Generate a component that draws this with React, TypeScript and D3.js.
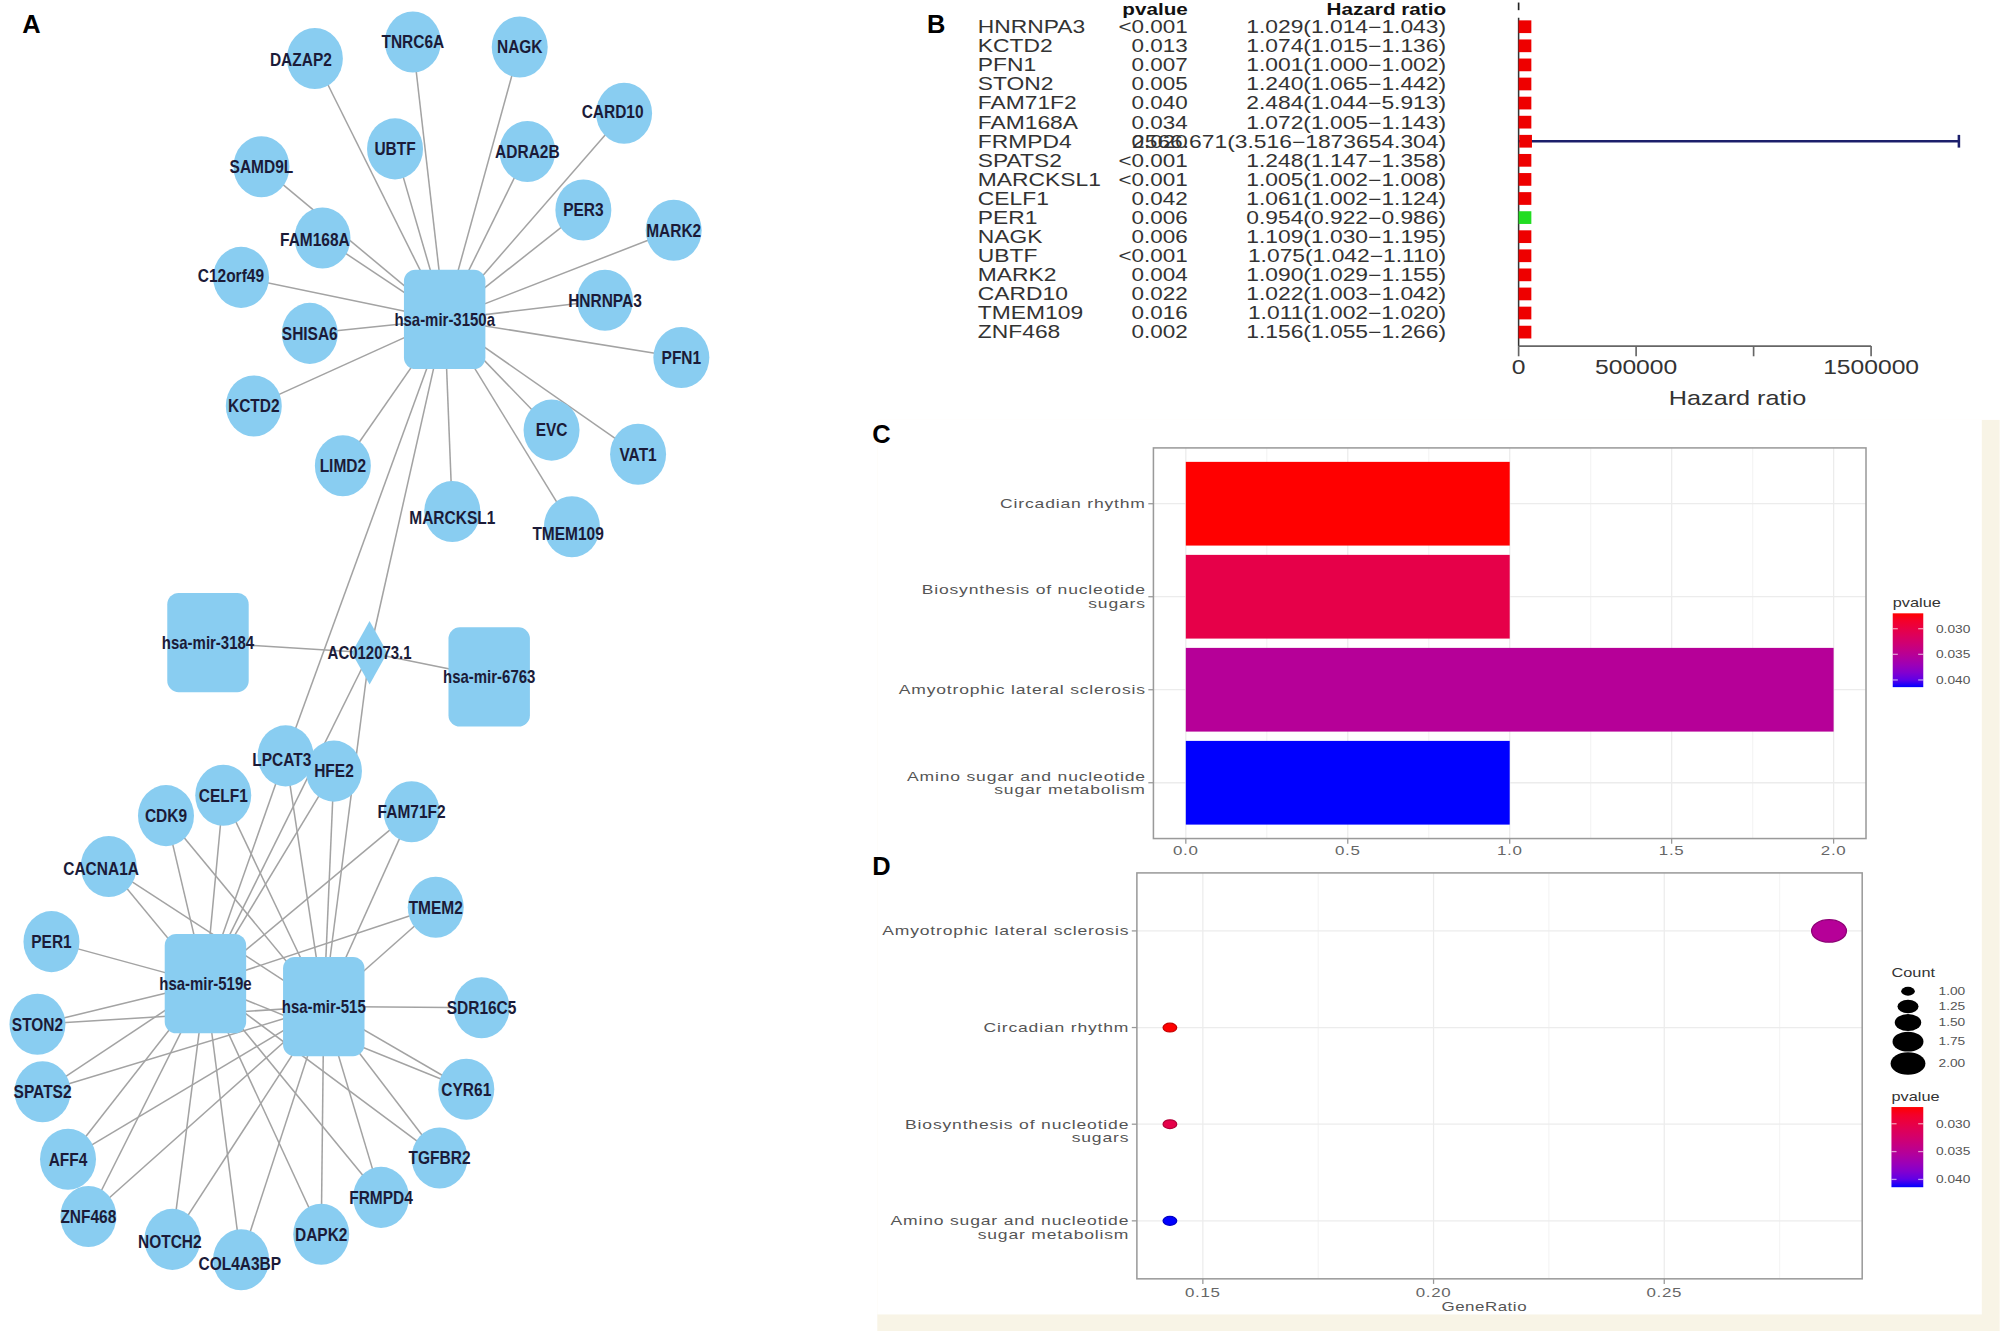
import React from 'react';
import * as d3 from 'd3';

// ---------------- A: ceRNA network (layout) ----------------
const mirnaIds = ['hsa-mir-3150a', 'hsa-mir-3184', 'hsa-mir-6763', 'hsa-mir-519e', 'hsa-mir-515'];
const mirnaX = [346, 160, 381, 158, 251];
const mirnaY = [251, 505, 532, 773, 791];

const lncIds = ['AC012073.1'];
const lncX = [287];
const lncY = [513];

const geneIds = [
  'TNRC6A', 'NAGK', 'DAZAP2', 'CARD10', 'UBTF', 'ADRA2B', 'SAMD9L', 'PER3', 'MARK2', 'FAM168A',
  'C12orf49', 'HNRNPA3', 'SHISA6', 'PFN1', 'KCTD2', 'EVC', 'VAT1', 'LIMD2', 'MARCKSL1', 'TMEM109',
  'LPCAT3', 'HFE2', 'CELF1', 'CDK9', 'FAM71F2', 'CACNA1A', 'TMEM2', 'PER1', 'SDR16C5', 'STON2',
  'CYR61', 'SPATS2', 'TGFBR2', 'AFF4', 'FRMPD4', 'ZNF468', 'DAPK2', 'NOTCH2', 'COL4A3BP',
];
const geneX = [
  321, 405, 244, 487, 307, 411, 202, 455, 526, 250,
  186, 472, 240, 532, 196, 430, 498, 266, 352, 446,
  221, 259, 172, 127, 320, 82, 339, 37, 375, 26,
  363, 30, 342, 50, 296, 66, 249, 132, 186,
];
const geneY = [
  33, 37, 46, 89, 117, 119, 131, 165, 181, 187,
  218, 236, 262, 281, 319, 338, 357, 366, 402, 414,
  594, 606, 625, 641, 638, 681, 713, 740, 792, 805,
  856, 858, 910, 911, 941, 956, 970, 974, 990,
];

const mir3150aTargets = [
  'TNRC6A', 'NAGK', 'DAZAP2', 'CARD10', 'UBTF', 'ADRA2B', 'SAMD9L', 'PER3', 'MARK2', 'FAM168A',
  'C12orf49', 'HNRNPA3', 'SHISA6', 'PFN1', 'KCTD2', 'EVC', 'VAT1', 'LIMD2', 'MARCKSL1', 'TMEM109',
  'LPCAT3', 'AC012073.1',
];
const mir519eTargets = [
  'LPCAT3', 'HFE2', 'CELF1', 'CDK9', 'FAM71F2', 'CACNA1A', 'TMEM2', 'PER1', 'STON2', 'CYR61',
  'SPATS2', 'TGFBR2', 'AFF4', 'FRMPD4', 'ZNF468', 'DAPK2', 'NOTCH2', 'COL4A3BP', 'AC012073.1',
];
const mir515Targets = [
  'LPCAT3', 'HFE2', 'CELF1', 'CDK9', 'FAM71F2', 'CACNA1A', 'TMEM2', 'SDR16C5', 'STON2', 'CYR61',
  'SPATS2', 'TGFBR2', 'AFF4', 'FRMPD4', 'ZNF468', 'DAPK2', 'NOTCH2', 'COL4A3BP', 'AC012073.1',
];
const lncPartners = ['hsa-mir-3184', 'hsa-mir-6763'];

// ---------------- B: univariate Cox forest ----------------
const coxGenes = [
  'HNRNPA3', 'KCTD2', 'PFN1', 'STON2', 'FAM71F2', 'FAM168A', 'FRMPD4', 'SPATS2', 'MARCKSL1',
  'CELF1', 'PER1', 'NAGK', 'UBTF', 'MARK2', 'CARD10', 'TMEM109', 'ZNF468',
];
const coxP = [
  '<0.001', '0.013', '0.007', '0.005', '0.040', '0.034', '0.020', '<0.001', '<0.001',
  '0.042', '0.006', '0.006', '<0.001', '0.004', '0.022', '0.016', '0.002',
];
const coxHR = [1.029, 1.074, 1.001, 1.24, 2.484, 1.072, 2566.671, 1.248, 1.005, 1.061, 0.954, 1.109, 1.075, 1.09, 1.022, 1.011, 1.156];
const coxLow = [1.014, 1.015, 1.0, 1.065, 1.044, 1.005, 3.516, 1.147, 1.002, 1.002, 0.922, 1.03, 1.042, 1.029, 1.003, 1.002, 1.055];
const coxHigh = [1.043, 1.136, 1.002, 1.442, 5.913, 1.143, 1873654.304, 1.358, 1.008, 1.124, 0.986, 1.195, 1.11, 1.155, 1.042, 1.02, 1.266];
const hrTicks = [0, 500000, 1000000, 1500000];
const hrTickLabels = ['0', '500000', '', '1500000'];

// ---------------- C / D: KEGG enrichment ----------------
const pathways = [
  'Circadian rhythm',
  'Biosynthesis of nucleotide sugars',
  'Amyotrophic lateral sclerosis',
  'Amino sugar and nucleotide sugar metabolism',
];
const pathCount = [1, 1, 2, 1];
const pathP = [0.027, 0.0302, 0.0352, 0.0414];
const pathRatio = [1 / 7, 1 / 7, 2 / 7, 1 / 7];
const barOrder = ['Circadian rhythm', 'Biosynthesis of nucleotide sugars', 'Amyotrophic lateral sclerosis', 'Amino sugar and nucleotide sugar metabolism'];
const dotOrder = ['Amyotrophic lateral sclerosis', 'Circadian rhythm', 'Biosynthesis of nucleotide sugars', 'Amino sugar and nucleotide sugar metabolism'];
const countTicks = [0, 0.5, 1, 1.5, 2];
const ratioTicks = [0.15, 0.2, 0.25];
const pTicks = [0.03, 0.035, 0.04];
const countLegend = [1, 1.25, 1.5, 1.75, 2];

const FONT = 'Liberation Sans, Arial, Helvetica, sans-serif';

// str_wrap-like greedy wrap
function wrap(s: string, width = 30): string[] {
  const out: string[] = [];
  let cur = '';
  s.split(' ').forEach(w => {
    if (cur && (cur + ' ' + w).length > width) { out.push(cur); cur = w; }
    else cur = cur ? cur + ' ' + w : w;
  });
  if (cur) out.push(cur);
  return out;
}

const SText = ({ x, y, sx = 1.3, anchor = 'start', size = 10, fill = '#4d4d4d', weight = 'normal', spacing = 0, children }: any) => (
  <g transform={`translate(${x},${y}) scale(${sx},1)`}>
    <text textAnchor={anchor} fontSize={size} fill={fill} fontWeight={weight} fontFamily={FONT} letterSpacing={spacing}>{children}</text>
  </g>
);

const pColor = d3.scaleLinear<string>()
  .domain([d3.min(pathP)!, d3.max(pathP)!])
  .range(['#ff0000', '#0000ff'])
  .interpolate(d3.interpolateLab);

const Network = () => {
  const pos = new Map<string, { x: number; y: number; kind: string }>();
  mirnaIds.forEach((id, i) => pos.set(id, { x: mirnaX[i], y: mirnaY[i], kind: 'mirna' }));
  lncIds.forEach((id, i) => pos.set(id, { x: lncX[i], y: lncY[i], kind: 'lnc' }));
  geneIds.forEach((id, i) => pos.set(id, { x: geneX[i], y: geneY[i], kind: 'gene' }));

  const edges: [string, string][] = [
    ...mir3150aTargets.map(t => ['hsa-mir-3150a', t] as [string, string]),
    ...mir519eTargets.map(t => ['hsa-mir-519e', t] as [string, string]),
    ...mir515Targets.map(t => ['hsa-mir-515', t] as [string, string]),
    ...lncPartners.map(t => ['AC012073.1', t] as [string, string]),
  ];
  // identity layout scales
  const sx = d3.scaleLinear().domain([0, 1]).range([0, 1]);
  const sy = d3.scaleLinear().domain([0, 1]).range([0, 1]);
  const labelShift: Record<string, [number, number]> = {
    DAZAP2: [-11, 1], CARD10: [-9, -1], FAM168A: [-6, 1], 'C12orf49': [-8, -1], MARCKSL1: [0, 5],
    TMEM109: [-3, 5], CACNA1A: [-6, 2], NOTCH2: [-2, 2], COL4A3BP: [-1, 3], LPCAT3: [-3, 3],
  };
  const fill = '#89cdf1';
  const nodes = [...pos.entries()];
  return (
    <g>
      {edges.map(([a, b], i) => {
        const p = pos.get(a)!, q = pos.get(b)!;
        return <line key={i} x1={sx(p.x)} y1={sy(p.y)} x2={sx(q.x)} y2={sy(q.y)} stroke="#a3a3a3" strokeWidth={1.2} />;
      })}
      {nodes.map(([id, p]) => {
        const x = sx(p.x), y = sy(p.y);
        if (p.kind === 'mirna') return <rect key={id} x={x - 32} y={y - 39} width={64} height={78} rx={9} fill={fill} />;
        if (p.kind === 'lnc') return <path key={id} d={`M${x},${y - 25}L${x + 14},${y}L${x},${y + 25}L${x - 14},${y}Z`} fill={fill} />;
        return <ellipse key={id} cx={x} cy={y} rx={22} ry={24} fill={fill} />;
      })}
      {nodes.map(([id, p]) => {
        const sh = labelShift[id] || [0, 0];
        return (
          <SText key={id} x={sx(p.x) + sh[0]} y={sy(p.y) + sh[1] + 5} anchor="middle" size={p.kind === 'gene' ? 14.5 : 14}
            sx={0.84} weight="bold" fill="#1b1b38">{id}</SText>
        );
      })}
    </g>
  );
};

const Forest = () => {
  const row = d3.scaleBand().domain(coxGenes).range([13.5, 268.5]);
  const xF = d3.scaleLinear().domain([0, 1500000]).range([1190, 1467]);
  const fmt = d3.format('.3f');
  const axisY = 272;
  return (
    <g>
      <SText x={930} y={12} anchor="end" size={13} sx={1.25} fill="#111" weight="bold">pvalue</SText>
      <SText x={1133} y={12} anchor="end" size={13} sx={1.25} fill="#111" weight="bold">Hazard ratio</SText>
      {coxGenes.map((g, i) => {
        const cy = row(g)! + row.bandwidth() / 2;
        return (
          <g key={g}>
            <SText x={765} y={cy + 5} size={13.8} sx={1.3} fill="#333">{g}</SText>
            <SText x={930} y={cy + 5} anchor="end" size={13.8} sx={1.28} fill="#333">{coxP[i]}</SText>
            <SText x={1133} y={cy + 5} anchor="end" size={13.8} sx={1.3} fill="#333">
              {`${fmt(coxHR[i])}(${fmt(coxLow[i])}\u2212${fmt(coxHigh[i])})`}
            </SText>
          </g>
        );
      })}
      <line x1={xF(1)} x2={xF(1)} y1={2} y2={8} stroke="#222" strokeWidth={1.3} />
      <line x1={xF(1)} x2={xF(1)} y1={14} y2={axisY} stroke="#333" strokeWidth={1.2} />
      {coxGenes.map((g, i) => {
        const cy = row(g)! + row.bandwidth() / 2;
        const wide = xF(coxHigh[i]) - xF(coxLow[i]) > 5;
        return (
          <g key={g}>
            {wide && (
              <g stroke="#1c1f6b" strokeWidth={2}>
                <line x1={xF(coxLow[i])} x2={xF(coxHigh[i])} y1={cy} y2={cy} />
                <line x1={xF(coxHigh[i])} x2={xF(coxHigh[i])} y1={cy - 5} y2={cy + 5} />
              </g>
            )}
            <rect x={xF(coxHR[i])} y={cy - 5} width={10} height={10} fill={coxHR[i] < 1 ? '#22dd22' : '#ee0000'} />
          </g>
        );
      })}
      <line x1={xF(0)} x2={xF(1500000)} y1={axisY} y2={axisY} stroke="#666" strokeWidth={1.3} />
      {hrTicks.map((t, i) => (
        <g key={t}>
          <line x1={xF(t)} x2={xF(t)} y1={axisY} y2={axisY + 8} stroke="#666" strokeWidth={1.3} />
          {hrTickLabels[i] && <SText x={xF(t)} y={axisY + 22} anchor="middle" size={15.5} sx={1.25} fill="#333">{hrTickLabels[i]}</SText>}
        </g>
      ))}
      <SText x={1362} y={318} anchor="middle" size={15.5} sx={1.28} fill="#333">Hazard ratio</SText>
    </g>
  );
};

const ColorBar = ({ x, y, w, h, id }: any) => {
  const [p0, p1] = pColor.domain();
  const yb = d3.scaleLinear().domain([p0, p1]).range([y, y + h]);
  const stops = d3.range(0, 1.0001, 0.1);
  return (
    <g>
      <defs>
        <linearGradient id={id} x1="0" y1="0" x2="0" y2="1">
          {stops.map(t => <stop key={t} offset={t} stopColor={pColor(p0 + t * (p1 - p0))} />)}
        </linearGradient>
      </defs>
      <SText x={x} y={y - 5} size={9.5} sx={1.35} fill="#333">pvalue</SText>
      <rect x={x} y={y} width={w} height={h} fill={`url(#${id})`} />
      {pTicks.map(t => (
        <g key={t}>
          <line x1={x} x2={x + 4} y1={yb(t)} y2={yb(t)} stroke="#fff" strokeOpacity={0.6} />
          <line x1={x + w - 4} x2={x + w} y1={yb(t)} y2={yb(t)} stroke="#fff" strokeOpacity={0.6} />
          <SText x={x + w + 10} y={yb(t) + 3} size={8} sx={1.35} fill="#555">{d3.format('.3f')(t)}</SText>
        </g>
      ))}
    </g>
  );
};

const YLabels = ({ order, yc, left, centered }: any) => (
  <g>
    {order.map((n: string) => {
      const lines = wrap(n);
      const c = yc(n);
      return (
        <g key={n}>
          <line x1={left - 4} x2={left} y1={c} y2={c} stroke="#999" />
          {lines.map((l, k) => (
            <SText key={k} x={left - 6} y={c + 3.5 + (centered ? k - (lines.length - 1) / 2 : k) * 10.5}
              anchor="end" size={9.5} sx={1.45} spacing={0.45} fill="#555">{l}</SText>
          ))}
        </g>
      );
    })}
  </g>
);

const BarPanel = () => {
  const left = 903, right = 1463, top = 352, bottom = 659;
  const x = d3.scaleLinear().domain([-0.1, 2.1]).range([left, right]);
  const y = d3.scaleLinear().domain([0.4, 4.6]).range([top, bottom]);
  const yc = (name: string) => y(barOrder.indexOf(name) + 1);
  return (
    <g>
      <rect x={left} y={top} width={right - left} height={bottom - top} fill="#fff" />
      {d3.range(0.25, 2.01, 0.5).map(t => <line key={'m' + t} x1={x(t)} x2={x(t)} y1={top} y2={bottom} stroke="#f5f5f5" />)}
      {countTicks.map(t => <line key={t} x1={x(t)} x2={x(t)} y1={top} y2={bottom} stroke="#ececec" />)}
      {barOrder.map(n => <line key={n} x1={left} x2={right} y1={yc(n)} y2={yc(n)} stroke="#ececec" />)}
      {pathways.map((n, i) => (
        <rect key={n} x={x(0)} y={yc(n) - 0.45 * (y(1) - y(0))} width={x(pathCount[i]) - x(0)}
          height={0.9 * (y(1) - y(0))} fill={pColor(pathP[i])} />
      ))}
      <rect x={left} y={top} width={right - left} height={bottom - top} fill="none" stroke="#9a9a9a" strokeWidth={1.2} />
      <YLabels order={barOrder} yc={yc} left={left} centered />
      {countTicks.map(t => (
        <g key={t}>
          <line x1={x(t)} x2={x(t)} y1={bottom} y2={bottom + 4} stroke="#999" />
          <SText x={x(t)} y={bottom + 13} anchor="middle" size={9.5} sx={1.4} spacing={0.4} fill="#666">{d3.format('.1f')(t)}</SText>
        </g>
      ))}
      <ColorBar x={1484} y={482} w={24} h={58} id="gradC" />
    </g>
  );
};

const DotPanel = () => {
  const left = 890, right = 1460, top = 686, bottom = 1005;
  const x = d3.scaleLinear().domain([0.1357, 0.2929]).range([left, right]);
  const y = d3.scaleLinear().domain([0.4, 4.6]).range([top, bottom]);
  const yc = (name: string) => y(dotOrder.indexOf(name) + 1);
  const area = d3.scaleLinear().domain([1, 2]).range([12, 78]);
  const ry = (c: number) => Math.sqrt(area(c));
  const stretch = 1.55;
  // legend key positions stacked by size
  const keyY: number[] = [];
  countLegend.forEach((c, i) => {
    keyY.push(i === 0 ? 779 : keyY[i - 1] + Math.max(12, ry(countLegend[i - 1]) + ry(c) + 0.5));
  });
  return (
    <g>
      <rect x={left} y={top} width={right - left} height={bottom - top} fill="#fff" />
      {[0.175, 0.225, 0.275].map(t => <line key={'m' + t} x1={x(t)} x2={x(t)} y1={top} y2={bottom} stroke="#f5f5f5" />)}
      {ratioTicks.map(t => <line key={t} x1={x(t)} x2={x(t)} y1={top} y2={bottom} stroke="#ececec" />)}
      {dotOrder.map(n => <line key={n} x1={left} x2={right} y1={yc(n)} y2={yc(n)} stroke="#ececec" />)}
      {pathways.map((n, i) => {
        const c = pColor(pathP[i]);
        return (
          <ellipse key={n} cx={x(pathRatio[i])} cy={yc(n)} rx={ry(pathCount[i]) * stretch} ry={ry(pathCount[i])}
            fill={c} stroke={d3.color(c)!.darker(0.7).formatHex()} strokeWidth={1} />
        );
      })}
      <rect x={left} y={top} width={right - left} height={bottom - top} fill="none" stroke="#9a9a9a" strokeWidth={1.2} />
      <YLabels order={dotOrder} yc={yc} left={left} centered={false} />
      {ratioTicks.map(t => (
        <g key={t}>
          <line x1={x(t)} x2={x(t)} y1={bottom} y2={bottom + 4} stroke="#999" />
          <SText x={x(t)} y={bottom + 14} anchor="middle" size={9.5} sx={1.4} spacing={0.4} fill="#666">{d3.format('.2f')(t)}</SText>
        </g>
      ))}
      <SText x={(left + right) / 2 - 12} y={bottom + 25} anchor="middle" size={9.5} sx={1.4} spacing={0.3} fill="#555">GeneRatio</SText>
      <SText x={1483} y={768} size={9.5} sx={1.35} fill="#333">Count</SText>
      {countLegend.map((c, i) => (
        <g key={c}>
          <ellipse cx={1496} cy={keyY[i]} rx={ry(c) * stretch} ry={ry(c)} fill="#000" />
          <SText x={1520} y={keyY[i] + 3} size={8} sx={1.35} fill="#555">{d3.format('.2f')(c)}</SText>
        </g>
      ))}
      <ColorBar x={1483} y={870} w={25} h={63} id="gradD" />
    </g>
  );
};

export default function App() {
  const W = 1568, H = 1046;
  return (
    <svg width={2004} height={1331} viewBox={`0 0 ${W} ${H}`}
      style={{ position: 'absolute', left: 0, top: 0, background: '#fff' }}>
      <rect x={0} y={0} width={W} height={H} fill="#fff" />
      <rect x={686} y={330} width={W - 686} height={H - 330} fill="#f8f4e6" />
      <rect x={686} y={330} width={1554 - 686} height={1033 - 330} fill="#fff" />
      <Network />
      <Forest />
      <BarPanel />
      <DotPanel />
      <text x={14} y={26} fontSize={20} fontWeight="bold" fontFamily={FONT}>A</text>
      <text x={725} y={26} fontSize={20} fontWeight="bold" fontFamily={FONT}>B</text>
      <text x={682} y={348} fontSize={20} fontWeight="bold" fontFamily={FONT}>C</text>
      <text x={682} y={688} fontSize={20} fontWeight="bold" fontFamily={FONT}>D</text>
    </svg>
  );
}
